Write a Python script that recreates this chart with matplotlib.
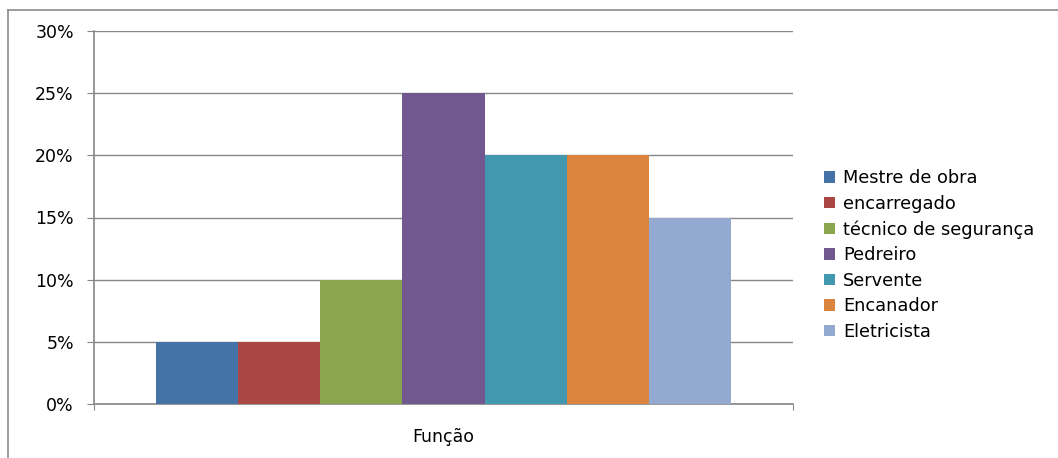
import matplotlib.pyplot as plt
import numpy as np
from matplotlib.lines import Line2D

plt.rcParams['font.family'] = ['DejaVu Sans']

categoria = "Função"
funcoes = ["Mestre de obra", "encarregado", "técnico de segurança", "Pedreiro",
           "Servente", "Encanador", "Eletricista"]
percentuais = [5, 5, 10, 25, 20, 20, 15]
cores = ["#4572A7", "#AA4643", "#89A54E", "#71588F", "#4198AF", "#DB843D", "#93A9CF"]

W, H = 1058, 458
fig = plt.figure(figsize=(W / 100, H / 100), dpi=100)
ax = fig.add_axes([94 / W, 1 - 404 / H, (793 - 94) / W, (404 - 31) / H])

largura = 575 / 699 / len(funcoes)
n = len(funcoes)
for i, (nome, v, c) in enumerate(zip(funcoes, percentuais, cores)):
    x = (i - (n - 1) / 2) * largura
    ax.bar(x, v, width=largura, color=c, label=nome, linewidth=0, zorder=3)

ax.set_xlim(-0.5, 0.5)
ax.set_ylim(0, 30)
ax.set_yticks(np.arange(0, 31, 5))
ax.set_yticklabels([f"{t}%" for t in range(0, 31, 5)])
ax.set_xticks([-0.5, 0.5])
ax.set_xticklabels(["", ""])
ax.set_xlabel(categoria, fontsize=12.5, labelpad=9.5)

cinza = "#868686"
ax.grid(axis="y", color=cinza, linewidth=1, zorder=0)
for s in ["top", "right"]:
    ax.spines[s].set_visible(False)
for s in ["left", "bottom"]:
    ax.spines[s].set_color(cinza)
    ax.spines[s].set_linewidth(1.2)
ax.tick_params(axis="y", length=5, color=cinza, labelsize=12.5, pad=9.5)
ax.tick_params(axis="x", length=4.5, color=cinza, direction="out")

ax.legend(loc="center left", bbox_to_anchor=(824 / W, 1 - 255 / H),
          bbox_transform=fig.transFigure, frameon=False, fontsize=12.8,
          handlelength=0.62, handleheight=0.62, handletextpad=0.45,
          labelspacing=0.42, borderaxespad=0, borderpad=0)

# moldura da área do gráfico
fig.add_artist(Line2D([8 / W, 8 / W], [0, 1 - 10 / H], color="#8c8c8c", linewidth=1.2,
                      transform=fig.transFigure))
fig.add_artist(Line2D([8 / W, 1], [1 - 10 / H, 1 - 10 / H], color="#8c8c8c", linewidth=1.2,
                      transform=fig.transFigure))

fig.savefig("out.png", dpi=100)
